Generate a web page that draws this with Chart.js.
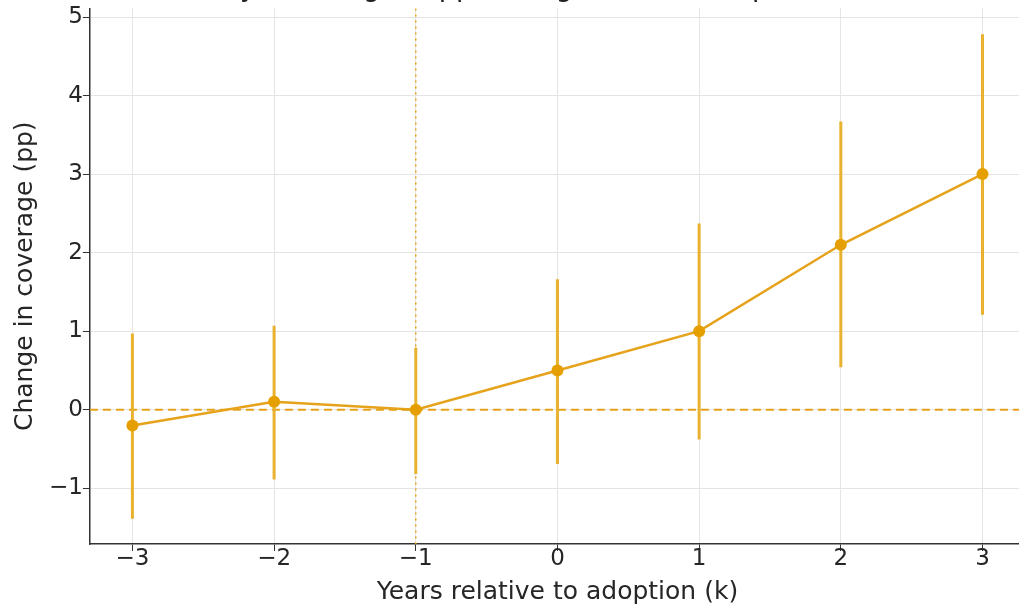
<!DOCTYPE html>
<html>
<head>
<meta charset="utf-8">
<script src="https://cdn.jsdelivr.net/npm/chart.js@4.4.0/dist/chart.umd.min.js"></script>
<style>
    html, body { margin: 0; padding: 0; background: #fff; overflow: hidden; }
    #wrap { position: relative; width: 1031px; height: 643px; margin-top: -36px; }
</style>
</head>
<body>
<div id="wrap"><canvas id="chart-event"></canvas></div>
<script>
// event-time k and estimated effect with 95% CI
const years = [-3, -2, -1, 0, 1, 2, 3]
const effect = [-0.2, 0.1, 0.0, 0.5, 1.0, 2.1, 3.0]
const ciLow = [-1.39, -0.89, -0.82, -0.69, -0.38, 0.54, 1.21]
const ciHigh = [0.97, 1.07, 0.79, 1.66, 2.37, 3.67, 4.78]
const xTicks = [-3, -2, -1, 0, 1, 2, 3]
const yTicks = [-1, 0, 1, 2, 3, 4, 5]
const refYear = -1

const gold = '#E5A21A'
const minus = v => (v < 0 ? '\u2212' + Math.abs(v) : String(v))

const errorBars = {
    id: 'errorBars',
    beforeDatasetsDraw(chart) {
        const { ctx, scales: { x, y }, chartArea } = chart
        ctx.save()
        ctx.beginPath()
        ctx.rect(chartArea.left, chartArea.top, chartArea.right - chartArea.left, chartArea.bottom - chartArea.top)
        ctx.clip()

        // zero line
        ctx.strokeStyle = gold
        ctx.lineWidth = 2
        ctx.setLineDash([8, 5])
        ctx.beginPath()
        ctx.moveTo(chartArea.left, y.getPixelForValue(0))
        ctx.lineTo(chartArea.right, y.getPixelForValue(0))
        ctx.stroke()

        // reference period line
        ctx.lineWidth = 1.5
        ctx.setLineDash([2, 4])
        ctx.beginPath()
        ctx.moveTo(x.getPixelForValue(refYear), chartArea.top)
        ctx.lineTo(x.getPixelForValue(refYear), chartArea.bottom)
        ctx.stroke()

        // confidence intervals
        ctx.setLineDash([])
        ctx.lineWidth = 3
        ctx.strokeStyle = '#E8B22E'
        years.forEach((k, i) => {
            const px = x.getPixelForValue(k)
            ctx.beginPath()
            ctx.moveTo(px, y.getPixelForValue(ciLow[i]))
            ctx.lineTo(px, y.getPixelForValue(ciHigh[i]))
            ctx.stroke()
        })
        ctx.restore()
    }
}

const ctx = document.getElementById('chart-event')
const tickFont = { family: 'DejaVu Sans', size: 23, lineHeight: 1 }
const labelFont = { family: 'DejaVu Sans', size: 25 }

new Chart(ctx, {
    type: 'line',
    data: {
        datasets: [{
            data: years.map((k, i) => ({ x: k, y: effect[i] })),
            borderColor: gold,
            backgroundColor: '#E69F00',
            borderWidth: 2.5,
            pointRadius: 6,
            pointBorderWidth: 0,
            pointHoverRadius: 6,
            tension: 0
        }]
    },
    options: {
        responsive: true,
        maintainAspectRatio: false,
        animation: false,
        layout: { padding: { top: 0, right: 0, left: 10, bottom: 0 } },
        plugins: {
            legend: { display: false },
            tooltip: { enabled: false },
            title: {
                display: true,
                text: 'Event study: coverage in pp, change around adoption (95% CI)',
                color: '#222',
                font: { family: 'DejaVu Sans', size: 27, weight: 'normal' },
                padding: { top: 9, bottom: 3 }
            }
        },
        scales: {
            x: {
                type: 'linear',
                min: -3.3,
                max: 3.3,
                afterBuildTicks: axis => { axis.ticks = xTicks.map(v => ({ value: v })) },
                ticks: { color: '#262626', font: tickFont, padding: -3, callback: minus, autoSkip: false, maxRotation: 0 },
                grid: { color: '#e4e4e4', lineWidth: 1, tickLength: 7, tickColor: '#333', drawTicks: true },
                border: { display: true, color: '#333', width: 1.5 },
                title: { display: true, text: 'Years relative to adoption (k)', color: '#262626', font: labelFont, padding: { top: 9, bottom: 0 } }
            },
            y: {
                type: 'linear',
                min: -1.71,
                max: 5.11,
                afterBuildTicks: axis => { axis.ticks = yTicks.map(v => ({ value: v })) },
                ticks: { color: '#262626', font: tickFont, padding: 0, callback: minus },
                grid: { color: '#e4e4e4', lineWidth: 1, tickLength: 7, tickColor: '#333', drawTicks: true },
                border: { display: true, color: '#333', width: 1.5 },
                title: { display: true, text: 'Change in coverage (pp)', color: '#262626', font: labelFont, padding: { top: 0, bottom: 9 } }
            }
        }
    },
    plugins: [errorBars]
})
</script>
</body>
</html>
